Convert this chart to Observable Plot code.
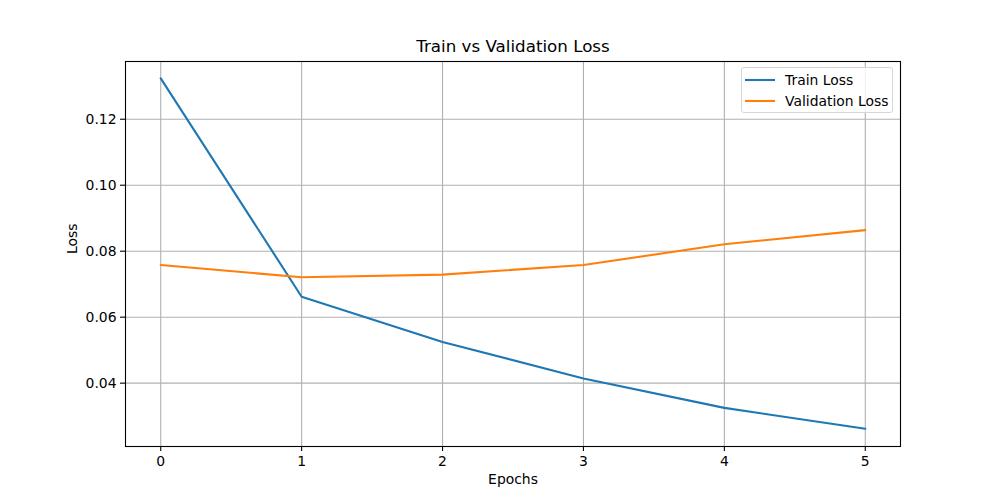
<!DOCTYPE html>
<html>
<head>
<meta charset="utf-8">
<script src="https://cdn.jsdelivr.net/npm/d3@7"></script>
<script src="https://cdn.jsdelivr.net/npm/@observablehq/plot@0.6"></script>
<style>
  html, body { margin: 0; padding: 0; background: #fff; }
  #wrap { position: relative; width: 1000px; height: 500px; font-family: "DejaVu Sans", sans-serif; }
  #legend { position: absolute; left: 741px; top: 67px; width: 152px; height: 46px; box-sizing: border-box;
    border: 1px solid #d6d6d6; border-radius: 3px; background: rgba(255,255,255,0.8); font-size: 13.9px; color: #000; }
  .item { position: absolute; left: 3px; height: 20px; display: flex; align-items: center; }
  .item svg { margin-right: 10px; }
</style>
</head>
<body>
<div id="wrap"><div id="legend"></div></div>
<script>
const epochs = [0, 1, 2, 3, 4, 5];
const trainLoss = [0.1324, 0.0662, 0.0525, 0.0414, 0.0325, 0.0262];
const valLoss = [0.0758, 0.0721, 0.0729, 0.0758, 0.0821, 0.0864];
const seriesNames = ["Train Loss", "Validation Loss"];
const seriesColors = ["#1f77b4", "#ff7f0e"];
const yTicks = [0.04, 0.06, 0.08, 0.10, 0.12];
const titleText = "Train vs Validation Loss";
const xLabel = "Epochs";
const yLabel = "Loss";

const data = [];
epochs.forEach((e, i) => {
  data.push({epoch: e, loss: trainLoss[i], series: seriesNames[0]});
  data.push({epoch: e, loss: valLoss[i], series: seriesNames[1]});
});

const chart = Plot.plot({
  width: 1000,
  height: 500,
  marginLeft: 125,
  marginRight: 100,
  marginTop: 61,
  marginBottom: 54,
  style: {fontFamily: "DejaVu Sans, sans-serif", fontSize: "13.9px", color: "#000", background: "#fff"},
  x: {domain: [-0.25, 5.25]},
  y: {domain: [0.0208, 0.1375]},
  color: {domain: seriesNames, range: seriesColors},
  marks: [
    Plot.gridX(epochs, {stroke: "#b0b0b0", strokeOpacity: 1, strokeWidth: 1.1}),
    Plot.gridY(yTicks, {stroke: "#b0b0b0", strokeOpacity: 1, strokeWidth: 1.1}),
    Plot.line(data, {x: "epoch", y: "loss", stroke: "series", z: "series", strokeWidth: 2.1}),
    Plot.frame({stroke: "#000", strokeWidth: 1.1}),
    Plot.axisX(epochs, {tickSize: 5, tickPadding: 5, tickFormat: d3.format("d"), label: null, stroke: "#000", strokeWidth: 1.1}),
    Plot.axisY(yTicks, {tickSize: 5, tickPadding: 4, tickFormat: d3.format(".2f"), label: null, stroke: "#000", strokeWidth: 1.1}),
    Plot.text([titleText], {frameAnchor: "top", dy: -21, fontSize: 16.7}),
    Plot.text([xLabel], {frameAnchor: "bottom", dy: 37, fontSize: 13.9}),
    Plot.text([yLabel], {frameAnchor: "left", dx: -53, rotate: -90, fontSize: 13.9})
  ]
});
document.getElementById("wrap").prepend(chart);

const legend = document.getElementById("legend");
seriesNames.forEach((name, i) => {
  const item = document.createElement("div");
  item.className = "item";
  item.style.top = (2 + i * 20.5) + "px";
  item.innerHTML = `<svg width="30" height="4"><line x1="0" x2="30" y1="2" y2="2" stroke="${seriesColors[i]}" stroke-width="2.1"/></svg><span>${name}</span>`;
  legend.appendChild(item);
});
</script>
</body>
</html>
